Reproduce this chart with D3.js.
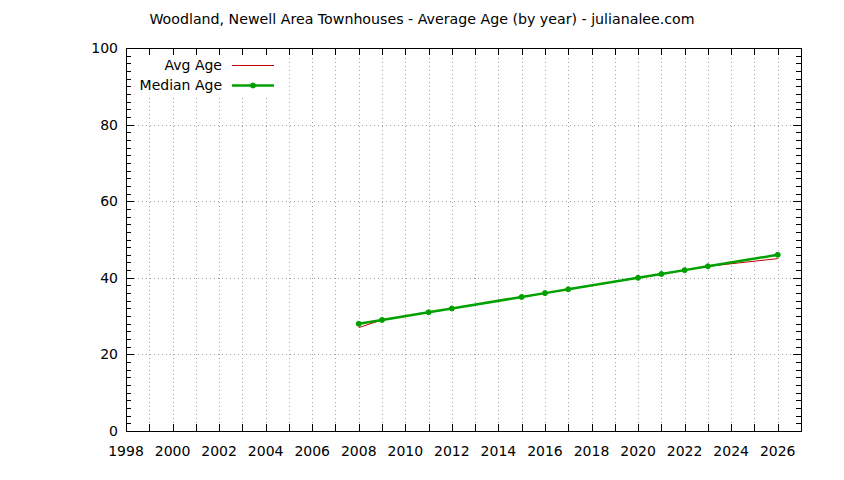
<!DOCTYPE html>
<html>
<head>
<meta charset="utf-8">
<script src="https://cdn.jsdelivr.net/npm/d3@7"></script>
<style>
  body { margin: 0; background: #fff; }
  svg { display: block; font-family: "DejaVu Sans", sans-serif; }
</style>
</head>
<body>
<div id="chart"></div>
<script>
const title = "Woodland, Newell Area Townhouses - Average Age (by year) - julianalee.com";
const years = [2008, 2009, 2011, 2012, 2015, 2016, 2017, 2020, 2021, 2022, 2023, 2026];
const avgAge = [27, 29, 31, 32, 35, 36, 37, 40, 41, 42, 43, 45];
const medianAge = [28, 29, 31, 32, 35, 36, 37, 40, 41, 42, 43, 46];
const xTickLabels = d3.range(1998, 2027, 2);
const yTickLabels = [0, 20, 40, 60, 80, 100];

const W = 844, H = 480;
const margin = { top: 48, right: 43, bottom: 49, left: 126 };

const svg = d3.select("#chart").append("svg").attr("width", W).attr("height", H);

const x = d3.scaleLinear().domain([1998, 2027]).range([margin.left, W - margin.right]);
const y = d3.scaleLinear().domain([0, 100]).range([H - margin.bottom, margin.top]);

const x0 = margin.left, x1 = W - margin.right;
const y0 = H - margin.bottom, y1 = margin.top;

// Grid: every year on x, every 20 on y
const grid = svg.append("g").attr("stroke", "#a0a0a0").attr("stroke-width", 1)
  .attr("stroke-dasharray", "1,3");
grid.selectAll(".gx").data(d3.range(1999, 2027)).join("line")
  .attr("x1", (d) => Math.round(x(d)) + 0.5).attr("x2", (d) => Math.round(x(d)) + 0.5)
  .attr("y1", y0).attr("y2", y1);
grid.selectAll(".gy").data([20, 40, 60, 80]).join("line")
  .attr("y1", (d) => Math.round(y(d)) + 0.5).attr("y2", (d) => Math.round(y(d)) + 0.5)
  .attr("x1", x0).attr("x2", x1);

// Legend background box hides the grid behind it
svg.append("rect").attr("x", x0 + 2).attr("y", 55).attr("width", 155).attr("height", 41)
  .attr("fill", "#fff");

// Ticks on all four sides (mirrored)
const ticks = svg.append("g").attr("stroke", "#000").attr("stroke-width", 1);
d3.range(1998, 2028).forEach((yr) => {
  const px = Math.round(x(yr)) + 0.5;
  ticks.append("line").attr("x1", px).attr("x2", px).attr("y1", y0).attr("y2", y0 - 7);
  ticks.append("line").attr("x1", px).attr("x2", px).attr("y1", y1).attr("y2", y1 + 7);
});
d3.range(0, 101, 2).forEach((v) => {
  const py = Math.round(y(v)) + 0.5;
  const len = v % 20 === 0 ? 8 : 5;
  ticks.append("line").attr("x1", x0).attr("x2", x0 + len).attr("y1", py).attr("y2", py);
  ticks.append("line").attr("x1", x1).attr("x2", x1 - len).attr("y1", py).attr("y2", py);
});

// Border
svg.append("rect").attr("x", x0 + 0.5).attr("y", y1 + 0.5)
  .attr("width", x1 - x0).attr("height", y0 - y1)
  .attr("fill", "none").attr("stroke", "#000").attr("stroke-width", 1);

// Tick labels
svg.append("g").selectAll("text").data(xTickLabels).join("text")
  .attr("x", (d) => x(d)).attr("y", y0 + 25)
  .attr("text-anchor", "middle").attr("font-size", 14).attr("fill", "#000")
  .text((d) => d);
svg.append("g").selectAll("text").data(yTickLabels).join("text")
  .attr("x", x0 - 8).attr("y", (d) => y(d) + 5)
  .attr("text-anchor", "end").attr("font-size", 14).attr("fill", "#000")
  .text((d) => d);

// Title
svg.append("text").attr("x", 422).attr("y", 24).attr("text-anchor", "middle")
  .attr("font-size", 14.2).attr("fill", "#000").text(title);

// Series
const avgData = years.map((yr, i) => ({ yr, v: avgAge[i] }));
const medData = years.map((yr, i) => ({ yr, v: medianAge[i] }));
const line = d3.line().x((d) => x(d.yr)).y((d) => y(d.v));

svg.append("path").datum(avgData).attr("d", line)
  .attr("fill", "none").attr("stroke", "#c00000").attr("stroke-width", 1);
svg.append("path").datum(medData).attr("d", line)
  .attr("fill", "none").attr("stroke", "#00a000").attr("stroke-width", 2.5);
svg.append("g").selectAll("circle").data(medData).join("circle")
  .attr("cx", (d) => x(d.yr)).attr("cy", (d) => y(d.v)).attr("r", 2.5)
  .attr("fill", "#00a000").attr("stroke", "#00a000").attr("stroke-width", 1);

// Legend
const legend = svg.append("g");
legend.append("text").attr("x", 222).attr("y", 70).attr("text-anchor", "end")
  .attr("font-size", 14).text("Avg Age");
legend.append("line").attr("x1", 232).attr("x2", 274).attr("y1", 65.5).attr("y2", 65.5)
  .attr("stroke", "#c00000").attr("stroke-width", 1);
legend.append("text").attr("x", 222).attr("y", 90).attr("text-anchor", "end")
  .attr("font-size", 14).text("Median Age");
legend.append("line").attr("x1", 232).attr("x2", 274).attr("y1", 85.5).attr("y2", 85.5)
  .attr("stroke", "#00a000").attr("stroke-width", 2.5);
legend.append("circle").attr("cx", 253).attr("cy", 85.5).attr("r", 2.5)
  .attr("fill", "#00a000").attr("stroke", "#00a000");
</script>
</body>
</html>
